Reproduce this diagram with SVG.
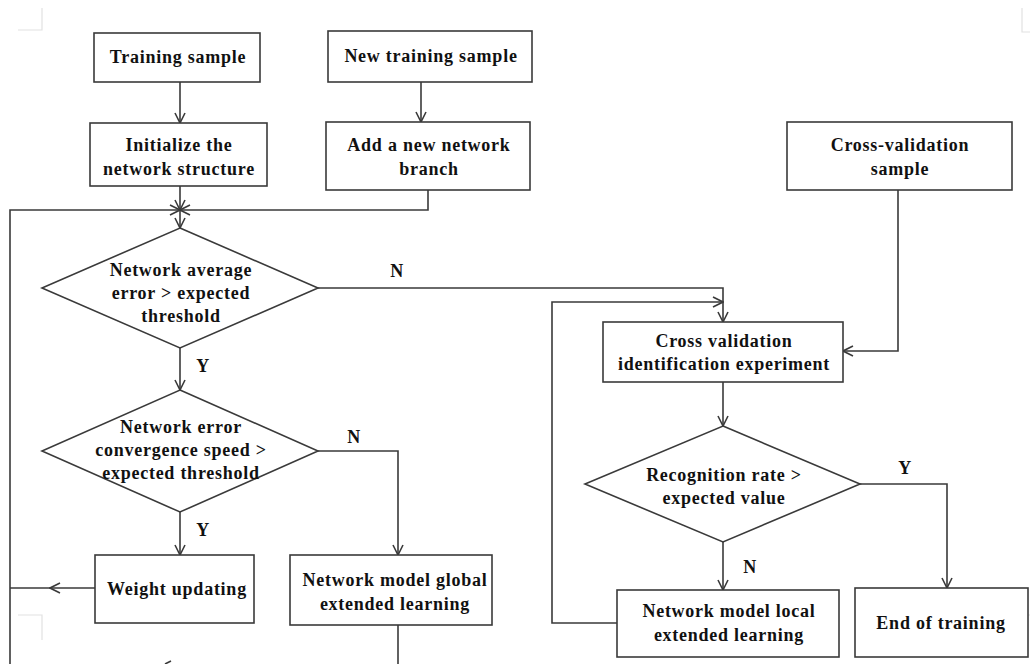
<svg xmlns="http://www.w3.org/2000/svg" width="1030" height="664" viewBox="0 0 1030 664">
<style>
.box{fill:#fff;stroke:#3a3a3a;stroke-width:1.6}
.ln{fill:none;stroke:#3a3a3a;stroke-width:1.6}
.t{font-family:"Liberation Serif","Times New Roman",serif;font-weight:bold;font-size:18px;letter-spacing:0.75px;fill:#111;text-anchor:middle}
.crop{fill:none;stroke:#e2e2e2;stroke-width:1.2}
</style>
<defs>
<marker id="ah" viewBox="0 0 12 12" refX="11" refY="6" markerWidth="12" markerHeight="12" markerUnits="userSpaceOnUse" orient="auto">
<path d="M1,1 L11,6 L1,11" fill="none" stroke="#3a3a3a" stroke-width="1.6"/>
</marker>
</defs>
<rect width="1030" height="664" fill="#fff"/>
<g id="cropmarks">
<path class="crop" d="M18,30 H42 V8"/>
<path class="crop" d="M1030,32 H1022 V8"/>
<path class="crop" d="M18,615 H42 V640"/>
<path class="crop" d="M1030,615 H1022 V640"/>
</g>
<g id="connectors">
<path class="ln" d="M180,82 V123" marker-end="url(#ah)"/>
<path class="ln" d="M421,82 V122" marker-end="url(#ah)"/>
<path class="ln" d="M180,186 V210" marker-end="url(#ah)"/>
<path class="ln" d="M428,190 V210 H180" marker-end="url(#ah)"/>
<path class="ln" d="M10,664 V210 H180" marker-end="url(#ah)"/>
<path class="ln" d="M180,210 V228" marker-end="url(#ah)"/>
<path class="ln" d="M318,288 H723 V322" marker-end="url(#ah)"/>
<path class="ln" d="M180,348 V390" marker-end="url(#ah)"/>
<path class="ln" d="M318,451 H398 V555" marker-end="url(#ah)"/>
<path class="ln" d="M180,512 V555" marker-end="url(#ah)"/>
<path class="ln" d="M95,588 H50" marker-end="url(#ah)"/>
<path class="ln" d="M50,588 H10"/>
<path class="ln" d="M398,625 V664"/>
<path class="ln" d="M171,661 L165,664"/>
<path class="ln" d="M898,190 V351 H843" marker-end="url(#ah)"/>
<path class="ln" d="M723,382 V426" marker-end="url(#ah)"/>
<path class="ln" d="M860,484 H947 V588" marker-end="url(#ah)"/>
<path class="ln" d="M723,542 V590" marker-end="url(#ah)"/>
<path class="ln" d="M617,623 H552 V302 H723" marker-end="url(#ah)"/>
<text class="t" x="397" y="277">N</text>
<text class="t" x="203" y="372">Y</text>
<text class="t" x="354" y="443">N</text>
<text class="t" x="203" y="536">Y</text>
<text class="t" x="905" y="474">Y</text>
<text class="t" x="750" y="573">N</text>
</g>
<g id="training-sample">
<rect class="box" x="94" y="33" width="166" height="49"/>
<text class="t" x="178" y="63">Training sample</text>
</g>
<g id="new-training-sample">
<rect class="box" x="328" y="31" width="204" height="51"/>
<text class="t" x="431" y="62">New training sample</text>
</g>
<g id="initialize">
<rect class="box" x="90" y="123" width="177" height="63"/>
<text class="t" x="179" y="151">Initialize the</text>
<text class="t" x="179" y="175">network structure</text>
</g>
<g id="add-branch">
<rect class="box" x="326" y="122" width="204" height="68"/>
<text class="t" x="429" y="151">Add a new network</text>
<text class="t" x="429" y="175">branch</text>
</g>
<g id="avg-error">
<polygon class="box" points="180,228 318,288 180,348 42,288"/>
<text class="t" x="181" y="276">Network average</text>
<text class="t" x="181" y="299">error &gt; expected</text>
<text class="t" x="181" y="322">threshold</text>
</g>
<g id="conv-speed">
<polygon class="box" points="180,390 318,451 180,512 42,451"/>
<text class="t" x="181" y="433">Network error</text>
<text class="t" x="181" y="456">convergence speed &gt;</text>
<text class="t" x="181" y="479">expected threshold</text>
</g>
<g id="weight-updating">
<rect class="box" x="95" y="555" width="159" height="68"/>
<text class="t" x="177" y="595">Weight updating</text>
</g>
<g id="global-learning">
<rect class="box" x="290" y="555" width="202" height="70"/>
<text class="t" x="395" y="586">Network model global</text>
<text class="t" x="395" y="610">extended learning</text>
</g>
<g id="cv-sample">
<rect class="box" x="787" y="122" width="225" height="68"/>
<text class="t" x="900" y="151">Cross-validation</text>
<text class="t" x="900" y="175">sample</text>
</g>
<g id="cv-experiment">
<rect class="box" x="603" y="322" width="240" height="60"/>
<text class="t" x="724" y="347">Cross validation</text>
<text class="t" x="724" y="370">identification experiment</text>
</g>
<g id="recognition">
<polygon class="box" points="723,426 860,484 723,542 585,484"/>
<text class="t" x="724" y="481">Recognition rate &gt;</text>
<text class="t" x="724" y="504">expected value</text>
</g>
<g id="local-learning">
<rect class="box" x="617" y="590" width="222" height="67"/>
<text class="t" x="729" y="617">Network model local</text>
<text class="t" x="729" y="641">extended learning</text>
</g>
<g id="end-training">
<rect class="box" x="855" y="588" width="173" height="69"/>
<text class="t" x="941" y="629">End of training</text>
</g>
</svg>
